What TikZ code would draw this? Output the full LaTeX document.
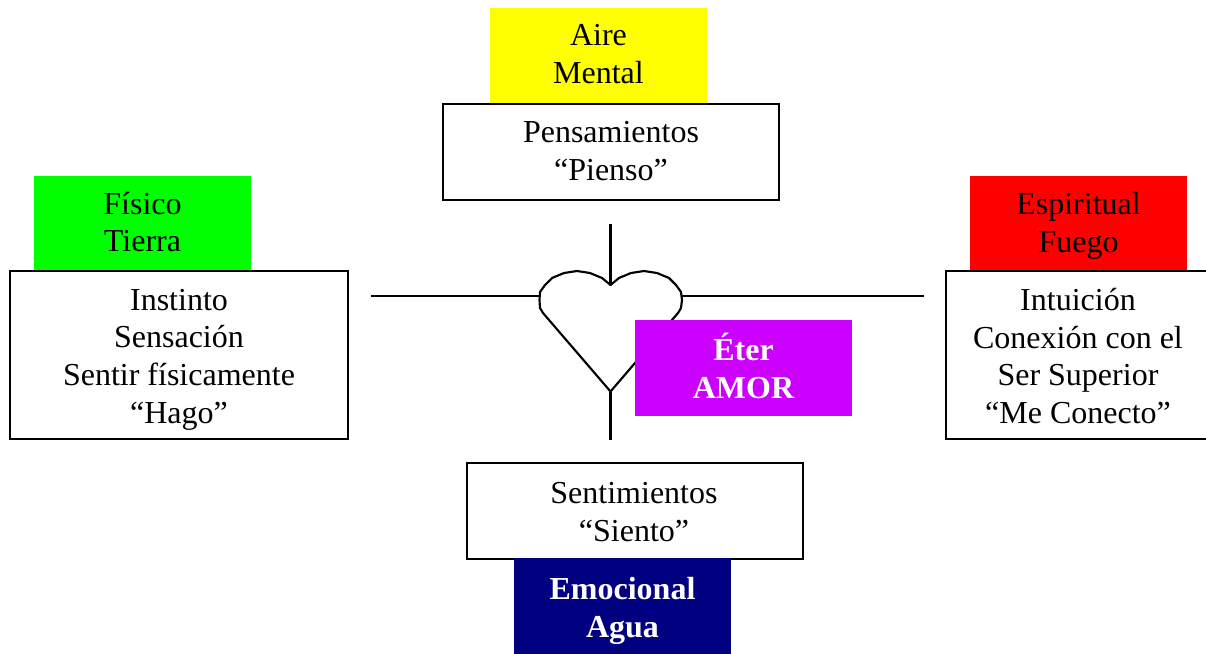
\documentclass[tikz,border=0pt]{standalone}
\usepackage{fontspec}
\setmainfont{Liberation Serif}
\definecolor{navyb}{RGB}{0,0,128}
\definecolor{purp}{RGB}{204,0,255}
\definecolor{yel}{RGB}{255,255,0}
\definecolor{grn}{RGB}{0,255,0}
\definecolor{rd}{RGB}{255,0,0}
\newcommand{\dfont}{\fontsize{24}{28.2}\selectfont}
\tikzset{
 txtbox/.style={draw=black,line width=1.6pt,fill=white,inner sep=0pt},
 txt/.style={inner sep=0pt,align=center,font=\dfont},
 tag/.style={inner sep=0pt,minimum width=163pt,minimum height=72pt},
 line/.style={draw=black,line width=1.6pt}
}
\begin{document}
\begin{tikzpicture}[x=0.75pt,y=-0.75pt]
\useasboundingbox (0,0) rectangle (1206,653);
\node[tag,fill=yel] (aire) at (598.5,56) {};
\node[txt] (airet) at (598.5,54) {Aire\\Mental};
\node[txtbox,minimum width=252pt,minimum height=72pt] (pens) at (611,152) {};
\node[txt] (penst) at (611,151) {Pensamientos\\“Pienso”};
\node[tag,fill=grn] (fis) at (142.5,224) {};
\node[txt] (fist) at (142.5,222) {Físico\\Tierra};
\node[txtbox,minimum width=253pt,minimum height=126pt] (inst) at (179,355) {};
\node[txt] (instt) at (179,359.5) {Instinto\\Sensación\\Sentir físicamente\\“Hago”};
\node[tag,fill=rd] (esp) at (1078.5,224) {};
\node[txt] (espt) at (1078.5,226) {Espiritual\\Fuego};
\node[txtbox,minimum width=198pt,minimum height=126pt] (intu) at (1078,355) {};
\node[txt] (intut) at (1078,356) {Intuición\\Conexión con el\\Ser Superior\\“Me Conecto”};
\node[txtbox,minimum width=252pt,minimum height=72pt] (sent) at (634.8,511) {};
\node[txt] (sentt) at (634,512) {Sentimientos\\“Siento”};
\node[tag,fill=navyb] (emo) at (622.5,606) {};
\node[txt,text=white,font=\dfont\bfseries] (emot) at (622.5,611) {Emocional\\Agua};
\coordinate (t) at (610.5,224); \coordinate (tb) at (610.5,285);
\coordinate (l) at (371,296); \coordinate (lb) at (540,296);
\coordinate (r) at (924,296); \coordinate (rb) at (682,296);
\coordinate (b) at (610.5,440); \coordinate (bb) at (610.5,392);
\draw[line] (t)--(tb);
\draw[line] (l)--(lb);
\draw[line] (rb)--(r);
\draw[line] (bb)--(b);
\draw[line,line join=round,fill=white] (610.5,285) -- (602,278) -- (590,273) -- (577,271) -- (564,273) -- (552,278) -- (545,285) -- (540,292) -- (539.5,300) -- (540,308) -- (543,313) -- (610.5,391.5) -- (678,313) -- (681,308) -- (682,300) -- (681,292) -- (676,285) -- (669,278) -- (657,273) -- (644,271) -- (631,273) -- (619,278) -- cycle;
\node[tag,fill=purp] (eter) at (743.5,368) {};
\node[txt,text=white,font=\dfont\bfseries] (etert) at (743.5,366) {Éter\\AMOR};
\end{tikzpicture}
\end{document}
